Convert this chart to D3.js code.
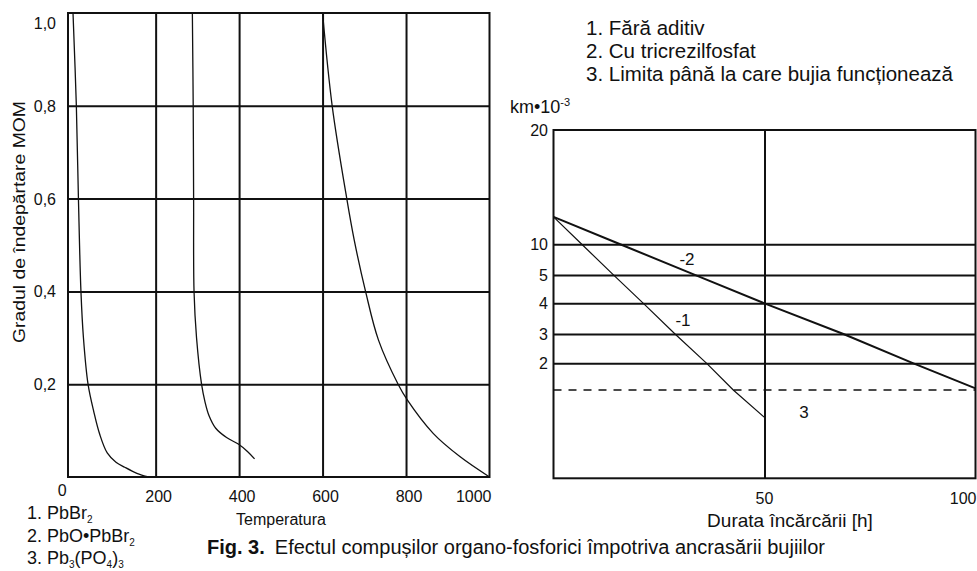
<!DOCTYPE html>
<html><head><meta charset="utf-8">
<script src="https://cdn.jsdelivr.net/npm/d3@7"></script>
<style>
body{margin:0;background:#fff}
svg{display:block}
text{font-family:"Liberation Sans",Arial,Helvetica,sans-serif;fill:#111}
</style>
</head><body>
<svg id="c" width="977" height="571"></svg>
<script>
// ---------- DATA ----------
// Left chart: degree of removal (MOM) vs temperature
const tempTicks = [0, 200, 400, 600, 800, 1000];
const gradTicks = [0.2, 0.4, 0.6, 0.8, 1.0];
const gradLabels = ["0,2", "0,4", "0,6", "0,8", "1,0"];

const pbbr2Temp = [2, 10, 15, 21, 27, 38, 52, 66, 84, 105, 126, 155, 183];
const pbbr2Val  = [1.0, 0.8, 0.6, 0.4, 0.3, 0.2, 0.14, 0.092, 0.052, 0.032, 0.021, 0.008, 0];

const pboTemp = [288, 290, 291, 292, 298, 310, 318, 328, 344, 370, 398, 420, 437];
const pboVal  = [1.0, 0.8, 0.6, 0.4, 0.3, 0.2, 0.163, 0.132, 0.105, 0.085, 0.071, 0.055, 0.039];

const pb3Temp = [600, 623, 658, 676, 703, 734, 781, 803, 865, 929, 1000];
const pb3Val  = [1.0, 0.8, 0.6, 0.51, 0.4, 0.295, 0.2, 0.166, 0.094, 0.044, 0];

const leftLegend = ["PbBr", "PbO•PbBr", "Pb"];

// Right chart: km·10^-3 vs charging duration
const hourTicks = [50, 100];
const kmTicks = [2, 3, 4, 5, 10, 20];
const kmLevels = [0, 1, 2, 3, 4, 5, 10, 20];
const noAddHours = [0, 6.7, 14.2, 21.3, 28.8, 36.3, 42.6, 50];
const noAddKm    = [12.4, 10, 5, 4, 3, 2, 1, 0.69];
const tcpHours = [0, 15.8, 33.5, 50, 68.7, 85.3, 100];
const tcpKm    = [12.4, 10, 5, 4, 3, 2, 1.06];
const limitKm = 1;
const rightLegend = ["1. Fără aditiv", "2. Cu tricrezilfosfat", "3. Limita până la care bujia funcționează"];

// ---------- DRAW ----------
const svg = d3.select("#c");
const ink = "#111";

// ===== Left chart =====
const xL = d3.scaleLinear().domain([-10, 1000]).range([68, 489.5]);
const yL = d3.scaleLinear().domain([0, 1]).range([477, 13]);
const gL = svg.append("g");

gL.append("g").attr("transform", `translate(0,${yL(0)})`)
  .call(d3.axisBottom(xL).tickValues(tempTicks.filter(t => t > 0 && t < 1000))
        .tickSize(-(yL(0) - yL(1))).tickFormat(""))
  .call(g => g.select(".domain").remove())
  .call(g => g.selectAll("line").attr("stroke", ink).attr("stroke-width", 2));

gL.append("g").attr("transform", `translate(${xL(-10)},0)`)
  .call(d3.axisLeft(yL).tickValues(gradTicks.filter(v => v < 1))
        .tickSize(-(xL(1000) - xL(-10))).tickFormat(""))
  .call(g => g.select(".domain").remove())
  .call(g => g.selectAll("line").attr("stroke", ink).attr("stroke-width", 2));

gL.append("rect")
  .attr("x", xL(-10)).attr("y", yL(1))
  .attr("width", xL(1000) - xL(-10)).attr("height", yL(0) - yL(1))
  .attr("fill", "none").attr("stroke", ink).attr("stroke-width", 2);

// y tick labels
gL.selectAll("text.yl").data(gradTicks).join("text")
  .attr("class", "yl")
  .attr("x", 56)
  .attr("y", d => Math.max(yL(d), 23) + 6)
  .attr("text-anchor", "end")
  .attr("font-size", 16)
  .text((d, i) => gradLabels[i]);

// x tick labels
gL.selectAll("text.xl").data(tempTicks).join("text")
  .attr("class", "xl")
  .attr("x", d => d === 0 ? xL(d) - 10 : d === 1000 ? xL(d) + 2 : xL(d) + 3)
  .attr("y", d => d === 0 ? 496 : 502)
  .attr("text-anchor", d => d === 1000 ? "end" : "middle")
  .attr("font-size", 16)
  .text(d => d);

gL.append("text").attr("x", 281).attr("y", 525).attr("text-anchor", "middle")
  .attr("font-size", 16).text("Temperatura");

gL.append("text").attr("transform", "translate(25,222) rotate(-90)")
  .attr("text-anchor", "middle").attr("font-size", 17)
  .attr("textLength", 242).attr("lengthAdjust", "spacingAndGlyphs")
  .text("Gradul de îndepărtare MOM");

const lineL = d3.line().x(d => xL(d[0])).y(d => yL(d[1])).curve(d3.curveCatmullRom.alpha(0.5));
[[pbbr2Temp, pbbr2Val], [pboTemp, pboVal], [pb3Temp, pb3Val]].forEach(([t, v]) => {
  gL.append("path").datum(t.map((d, i) => [d, v[i]]))
    .attr("d", lineL).attr("fill", "none").attr("stroke", ink).attr("stroke-width", 1.3);
});

// left legend
const leg = gL.append("g").attr("font-size", 18);
const l1 = leg.append("text").attr("x", 27).attr("y", 519);
l1.append("tspan").text("1. " + leftLegend[0]);
l1.append("tspan").attr("font-size", 10).attr("dy", 4).text("2");
const l2 = leg.append("text").attr("x", 27).attr("y", 542);
l2.append("tspan").text("2. " + leftLegend[1]);
l2.append("tspan").attr("font-size", 10).attr("dy", 4).text("2");
const l3 = leg.append("text").attr("x", 27).attr("y", 564);
l3.append("tspan").text("3. " + leftLegend[2]);
l3.append("tspan").attr("font-size", 10).attr("dy", 4).text("3");
l3.append("tspan").attr("dy", -4).text("(PO");
l3.append("tspan").attr("font-size", 10).attr("dy", 4).text("4");
l3.append("tspan").attr("dy", -4).text(")");
l3.append("tspan").attr("font-size", 10).attr("dy", 4).text("3");

// caption
const cap = svg.append("text").attr("x", 207).attr("y", 553.5).attr("font-size", 20);
cap.append("tspan").attr("font-weight", "bold").text("Fig. 3.");
cap.append("tspan").attr("dx", 10).text("Efectul compușilor organo-fosforici împotriva ancrasării bujiilor");

// ===== Right chart =====
const xR = d3.scaleLinear().domain([0, 100]).range([553.5, 975.5]);
const rTop = 130, rH = 348.3;
const kmFrac = [1, 0.7465, 0.67, 0.5857, 0.4976, 0.416, 0.328, 0];
const yR = d3.scaleLinear().domain(kmLevels).range(kmFrac.map(f => rTop + f * rH));
const gR = svg.append("g");

gR.append("g").attr("transform", `translate(0,${yR(0)})`)
  .call(d3.axisBottom(xR).tickValues(hourTicks.filter(h => h < 100))
        .tickSize(-(yR(0) - yR(20))).tickFormat(""))
  .call(g => g.select(".domain").remove())
  .call(g => g.selectAll("line").attr("stroke", ink).attr("stroke-width", 2));

gR.append("g").attr("transform", `translate(${xR(0)},0)`)
  .call(d3.axisLeft(yR).tickValues(kmTicks.filter(k => k < 20))
        .tickSize(-(xR(100) - xR(0))).tickFormat(""))
  .call(g => g.select(".domain").remove())
  .call(g => g.selectAll("line").attr("stroke", ink).attr("stroke-width", 2));

gR.append("rect")
  .attr("x", xR(0)).attr("y", yR(20))
  .attr("width", xR(100) - xR(0)).attr("height", yR(0) - yR(20))
  .attr("fill", "none").attr("stroke", ink).attr("stroke-width", 2);

gR.append("line")
  .attr("x1", xR(0)).attr("x2", xR(100))
  .attr("y1", yR(limitKm)).attr("y2", yR(limitKm))
  .attr("stroke", ink).attr("stroke-width", 1.6).attr("stroke-dasharray", "8,7");

gR.selectAll("text.ky").data(kmTicks).join("text")
  .attr("class", "ky")
  .attr("x", 548).attr("y", d => yR(d) + 6)
  .attr("text-anchor", "end").attr("font-size", 16).text(d => d);

gR.selectAll("text.hx").data(hourTicks).join("text")
  .attr("class", "hx")
  .attr("x", d => d === 100 ? xR(d) + 1 : xR(d))
  .attr("y", 504)
  .attr("text-anchor", d => d === 100 ? "end" : "middle")
  .attr("font-size", 16).text(d => d);

gR.append("text").attr("x", 790).attr("y", 527).attr("text-anchor", "middle")
  .attr("font-size", 19).text("Durata încărcării [h]");

const km = gR.append("text").attr("x", 510).attr("y", 113).attr("font-size", 18);
km.append("tspan").text("km•10");
km.append("tspan").attr("font-size", 11).attr("dy", -7).text("-3");

const lineR = d3.line().x(d => xR(d[0])).y(d => yR(d[1]));
gR.append("path").datum(noAddHours.map((h, i) => [h, noAddKm[i]]))
  .attr("d", lineR).attr("fill", "none").attr("stroke", ink).attr("stroke-width", 1.2);
gR.append("path").datum(tcpHours.map((h, i) => [h, tcpKm[i]]))
  .attr("d", lineR).attr("fill", "none").attr("stroke", ink).attr("stroke-width", 2);

gR.append("text").attr("x", 687).attr("y", 265).attr("text-anchor", "middle").attr("font-size", 17).text("-2");
gR.append("text").attr("x", 683).attr("y", 326).attr("text-anchor", "middle").attr("font-size", 17).text("-1");
gR.append("text").attr("x", 804).attr("y", 418).attr("text-anchor", "middle").attr("font-size", 17).text("3");

gR.selectAll("text.lg").data(rightLegend).join("text")
  .attr("class", "lg")
  .attr("x", 586).attr("y", (d, i) => 35 + i * 23)
  .attr("font-size", 20.5).text(d => d);
</script>
</body></html>
